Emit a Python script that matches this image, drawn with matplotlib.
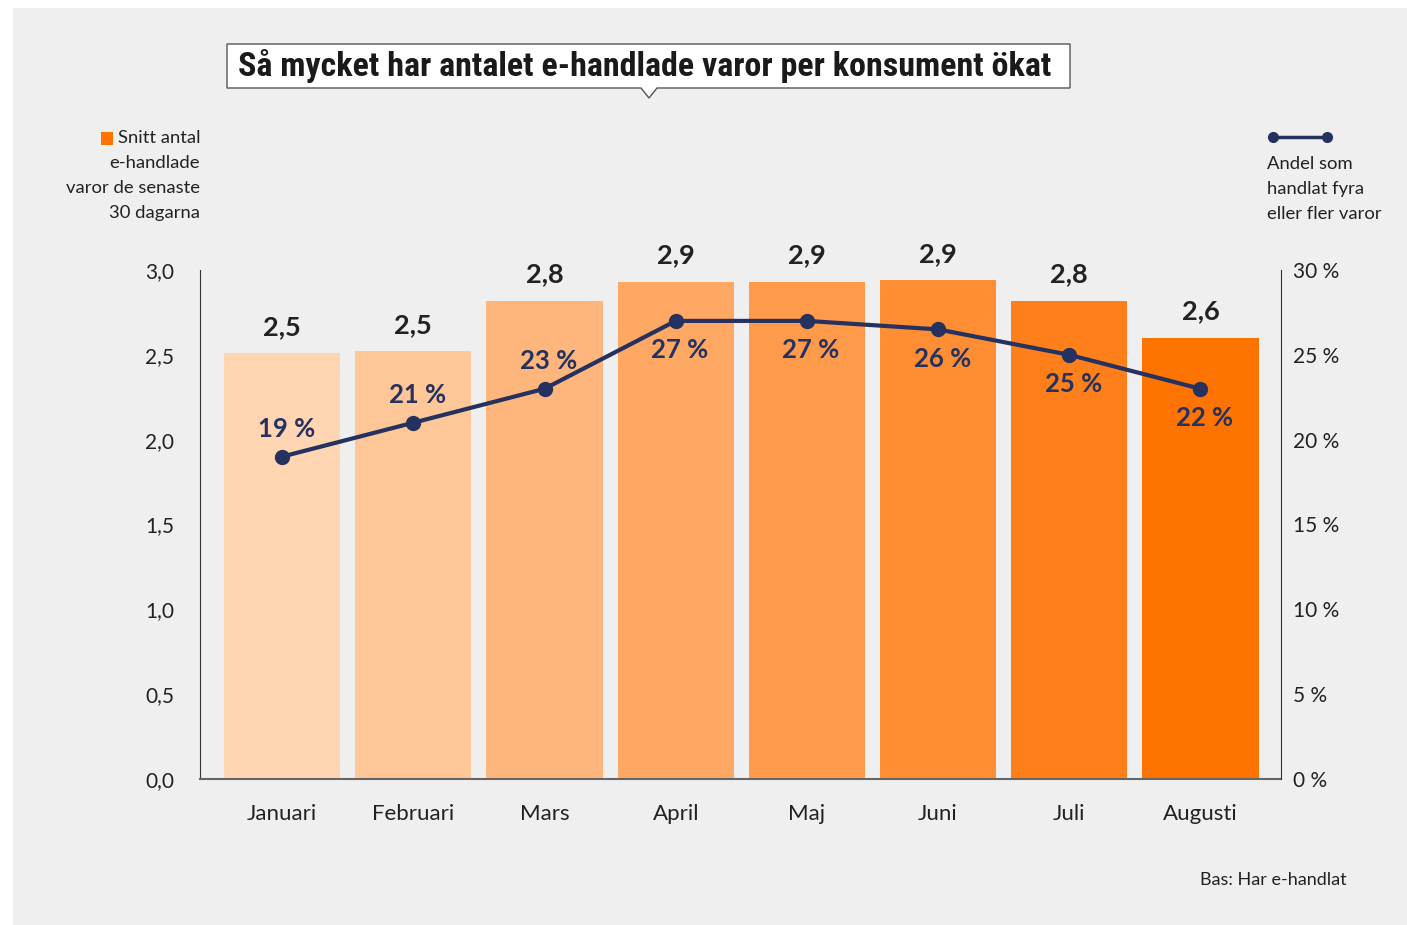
import matplotlib
matplotlib.use("Agg")
import matplotlib.pyplot as plt
from matplotlib.patches import Rectangle, Polygon
from matplotlib.lines import Line2D
from matplotlib.ticker import FixedLocator, FuncFormatter

months = ["Januari", "Februari", "Mars", "April", "Maj", "Juni", "Juli", "Augusti"]
avg_items = [2.51, 2.52, 2.82, 2.93, 2.93, 2.94, 2.82, 2.60]
avg_labels = ["2,5", "2,5", "2,8", "2,9", "2,9", "2,9", "2,8", "2,6"]
share_pct = [19, 21, 23, 27, 27, 26.5, 25, 23]
share_labels = ["19 %", "21 %", "23 %", "27 %", "27 %", "26 %", "25 %", "22 %"]
bar_colors = ["#FFD5B2", "#FFC697", "#FFB67D", "#FFA864", "#FF9A4B", "#FF8D33", "#FF7F1B", "#FF7300"]
left_ticks = [0, 0.5, 1.0, 1.5, 2.0, 2.5, 3.0]
right_ticks = [0, 5, 10, 15, 20, 25, 30]

W, H = 1407, 925
NAVY = "#253260"
TXT = "#222222"
FONT = "Lato"

fig = plt.figure(figsize=(W / 100, H / 100), dpi=100, facecolor="white")

def fx(x):
    return x / W

def fy(y):
    return 1 - y / H

# grey background panel
fig.patches.append(Rectangle((fx(13), 0), 1 - fx(13), fy(8), transform=fig.transFigure,
                             facecolor="#EFEFEF", edgecolor="none", zorder=-10))

ax = fig.add_axes([fx(200), fy(779), fx(1281) - fx(200), fy(270) - fy(779)])
ax.set_facecolor("none")
x = list(range(len(months)))
ax.bar(x, avg_items, width=0.885, color=bar_colors, zorder=2)
ax.set_xlim(-0.626, 7.614)
ax.set_ylim(0, 3.0)
ax.yaxis.set_major_locator(FixedLocator(left_ticks))
ax.yaxis.set_major_formatter(FuncFormatter(lambda v, p: f"{v:.1f}".replace(".", ",")))
ax.set_xticks(x)
ax.set_xticklabels(months, fontsize=16, color=TXT, family=FONT)
ax.tick_params(axis="x", length=0, pad=18)
ax.tick_params(axis="y", length=0, pad=18.5, labelsize=15, labelcolor=TXT)
for lab in ax.get_yticklabels():
    lab.set_family(FONT)
for s in ["top", "right"]:
    ax.spines[s].set_visible(False)
ax.spines["left"].set_color("#333333")
ax.spines["bottom"].set_color("#666666")
ax.spines["bottom"].set_linewidth(1.5)

for xi, v, lab in zip(x, avg_items, avg_labels):
    ax.annotate(lab, (xi, v), xytext=(0, 19), textcoords="offset points", ha="center",
                va="center", fontsize=19.5, fontweight="bold", color=TXT, family=FONT, zorder=5)

ax2 = ax.twinx()
ax2.set_ylim(0, 30)
ax2.yaxis.set_major_locator(FixedLocator(right_ticks))
ax2.yaxis.set_major_formatter(FuncFormatter(lambda v, p: f"{int(v)} %"))
ax2.tick_params(axis="y", length=0, pad=8.5, labelsize=15, labelcolor=TXT)
for lab in ax2.get_yticklabels():
    lab.set_family(FONT)
for s in ["top", "left", "bottom"]:
    ax2.spines[s].set_visible(False)
ax2.spines["right"].set_color("#333333")
ax2.plot(x, share_pct, color=NAVY, lw=3, marker="o", ms=10, zorder=4)
for i, (xi, v, lab) in enumerate(zip(x, share_pct, share_labels)):
    off = 20 if i < 3 else -21
    ax2.annotate(lab, (xi, v), xytext=(3, off), textcoords="offset points", ha="center",
                 va="center", fontsize=18.5, fontweight="bold", color=NAVY, family=FONT, zorder=5)

# title box with pointer
pts = [(227, 44), (1070, 44), (1070, 88), (657, 88), (649, 98), (641, 88), (227, 88)]
fig.patches.append(Polygon([(fx(a), fy(b)) for a, b in pts], closed=True, transform=fig.transFigure,
                           facecolor="white", edgecolor="#555555", lw=1.0, zorder=1))
fig.text(fx(238), fy(66), "Så mycket har antalet e-handlade varor per konsument ökat",
         ha="left", va="center", fontsize=24.5, fontweight="black", color="#1a1a1a",
         family=["Roboto Condensed", "Liberation Sans Narrow", "Roboto", "DejaVu Sans"])

# left legend
fig.patches.append(Rectangle((fx(101), fy(145)), fx(12), 13 / H, transform=fig.transFigure,
                             facecolor="#FF7300", edgecolor="none"))
left_lines = ["Snitt antal", "e-handlade", "varor de senaste", "30 dagarna"]
for i, t in enumerate(left_lines):
    fig.text(fx(200), fy(138 + 25 * i), t, ha="right", va="center", fontsize=13.3,
             color=TXT, family=FONT)

# right legend
fig.add_artist(Line2D([fx(1273), fx(1327)], [fy(137), fy(137)], transform=fig.transFigure,
                      color=NAVY, lw=2.5, marker="o", ms=7))
right_lines = ["Andel som", "handlat fyra", "eller fler varor"]
for i, t in enumerate(right_lines):
    fig.text(fx(1267), fy(164 + 25 * i), t, ha="left", va="center", fontsize=13.3,
             color=TXT, family=FONT)

fig.text(fx(1347), fy(880), "Bas: Har e-handlat", ha="right", va="center", fontsize=13,
         color=TXT, family=FONT)

fig.savefig("out.png", dpi=100, facecolor="white")
